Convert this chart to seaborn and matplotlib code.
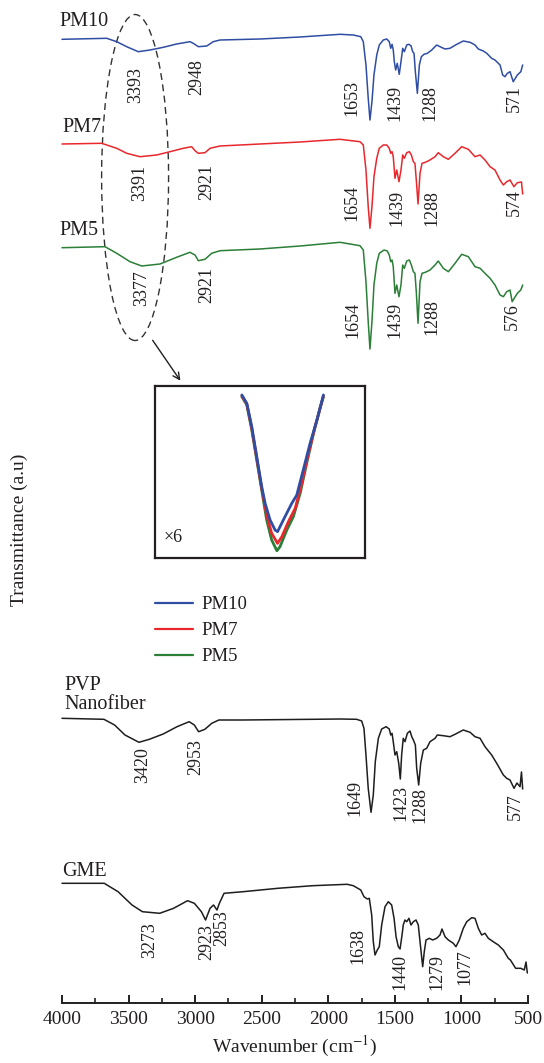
import numpy as np
import pandas as pd
import matplotlib
matplotlib.use("Agg")
import matplotlib.pyplot as plt
import seaborn as sns
from matplotlib.patches import Ellipse
from matplotlib.lines import Line2D

# ---------------- data (wavenumber cm^-1, relative transmittance a.u.) ----------------
PM10 = [(4000,0.0),(3664,1.0),(3589,-2.4),(3514,-7.4),(3427,-12.4),(3339,-10.7),(3239,-8.0),(3139,-4.7),
        (3039,-2.4),(3014,-4.0),(2976,-7.4),(2913,-6.7),(2864,-2.4),(2813,-0.7),(2513,0.3),(2212,2.3),
        (1912,5.0),(1812,4.3),(1756,2.6),(1737,-2.4),(1717,-25.7),(1700,-59.0),(1687,-80.7),(1672,-62.4),
        (1657,-35.7),(1636,-15.7),(1617,-5.7),(1587,-0.7),(1561,0.3),(1542,-2.4),(1531,-9.0),(1521,-5.0),
        (1512,-10.7),(1504,-22.4),(1494,-30.7),(1482,-24.0),(1467,-35.0),(1454,-22.4),(1441,-9.0),
        (1429,-12.4),(1411,-5.7),(1395,-5.0),(1379,-6.4),(1366,-12.4),(1356,-14.0),(1346,-32.4),
        (1331,-54.0),(1316,-25.7),(1301,-17.4),(1281,-15.0),(1256,-14.0),(1223,-10.7),(1186,-5.7),
        (1161,-7.4),(1123,-9.7),(1086,-9.0),(1035,-5.0),(986,-1.7),(935,-3.0),(898,-5.7),(873,-9.7),
        (836,-11.7),(810,-14.0),(773,-19.0),(748,-20.7),(710,-25.7),(690,-35.7),(673,-37.4),(655,-34.0),
        (635,-32.4),(611,-42.4),(580,-35.7),(554,-32.4),(540,-25.7)]
PM7 = [(4000,0.0),(3702,0.7),(3589,-4.3),(3514,-9.3),(3414,-12.7),(3289,-11.0),(3189,-7.7),(3089,-4.3),
       (3026,-2.7),(3001,-6.7),(2976,-9.3),(2926,-8.7),(2888,-4.3),(2813,-2.0),(2513,0.0),(2212,2.0),
       (1912,4.7),(1762,2.3),(1737,-1.0),(1717,-26.0),(1700,-62.7),(1687,-84.3),(1672,-62.7),(1657,-32.7),
       (1636,-14.3),(1617,-4.3),(1587,-1.0),(1561,-1.0),(1542,-4.3),(1531,-9.3),(1521,-7.7),(1512,-12.7),
       (1499,-34.3),(1486,-26.0),(1469,-37.7),(1454,-26.0),(1441,-11.0),(1429,-14.3),(1411,-8.7),
       (1391,-7.7),(1376,-11.0),(1361,-17.7),(1349,-19.3),(1339,-36.0),(1326,-60.0),(1311,-29.3),
       (1296,-19.3),(1271,-18.3),(1236,-16.0),(1198,-12.7),(1174,-8.7),(1136,-12.7),(1098,-15.3),
       (1048,-9.3),(998,-2.7),(948,-5.3),(898,-12.7),(860,-11.0),(823,-16.0),(785,-22.7),(748,-26.0),
       (710,-36.0),(685,-41.0),(660,-37.7),(635,-36.0),(606,-42.7),(580,-38.7),(549,-38.0),(540,-50.0)]
PM5 = [(4000,0.0),(3677,1.0),(3589,-5.6),(3489,-14.0),(3401,-18.3),(3264,-16.3),(3139,-9.6),(3039,-4.6),
       (3001,-7.3),(2976,-13.0),(2926,-11.6),(2876,-5.6),(2813,-3.0),(2513,-1.3),(2212,1.7),(1912,5.4),
       (1762,2.0),(1737,-2.3),(1717,-34.0),(1700,-74.0),(1687,-101.3),(1672,-74.0),(1657,-37.3),
       (1636,-15.6),(1617,-5.6),(1581,-2.3),(1557,-3.3),(1542,-7.3),(1531,-14.0),(1521,-12.3),(1512,-19.0),
       (1499,-45.6),(1486,-37.3),(1469,-49.0),(1454,-37.3),(1441,-17.3),(1429,-20.6),(1411,-13.3),
       (1391,-12.3),(1376,-17.3),(1361,-24.0),(1349,-25.6),(1339,-44.0),(1326,-75.6),(1311,-34.0),
       (1296,-25.6),(1271,-24.6),(1236,-22.3),(1198,-17.3),(1174,-13.3),(1136,-20.6),(1098,-24.0),
       (1048,-15.6),(998,-6.6),(948,-9.0),(898,-19.0),(860,-20.6),(823,-25.6),(785,-30.6),(748,-37.3),
       (710,-47.3),(685,-49.0),(660,-44.0),(635,-42.3),(619,-54.0),(580,-45.6),(554,-42.3),(540,-37.3)]
PVP = [(4000,0.0),(3685,-1.0),(3605,-6.7),(3527,-16.7),(3422,-24.0),(3344,-21.0),(3240,-15.7),(3136,-8.4),
       (3045,-3.4),(3006,-6.7),(2974,-13.4),(2927,-11.0),(2875,-5.0),(2822,-1.7),(2640,-1.7),(2118,-1.0),
       (1912,-0.7),(1787,-1.0),(1749,-2.7),(1732,-10.0),(1717,-36.7),(1700,-70.0),(1679,-94.0),(1662,-76.7),
       (1647,-43.4),(1624,-20.0),(1599,-10.7),(1566,-8.4),(1542,-10.7),(1531,-16.7),(1521,-15.0),
       (1512,-23.4),(1499,-36.7),(1486,-33.4),(1471,-45.0),(1459,-60.7),(1449,-36.7),(1437,-20.0),
       (1424,-23.4),(1406,-15.0),(1386,-12.7),(1373,-18.4),(1361,-21.7),(1346,-26.7),(1336,-50.0),
       (1321,-66.7),(1306,-45.0),(1286,-31.7),(1261,-30.0),(1236,-23.4),(1198,-20.0),(1181,-16.7),
       (1136,-17.4),(1086,-18.4),(1048,-16.0),(986,-11.7),(935,-14.0),(898,-18.4),(860,-20.0),(823,-28.4),
       (773,-36.7),(735,-45.0),(685,-56.7),(660,-60.0),(635,-61.7),(605,-70.0),(583,-64.7),(560,-68.4),
       (549,-53.7),(540,-70.7)]
GME = [(4000,0.0),(3683,0.0),(3579,-8.4),(3474,-21.7),(3396,-28.4),(3266,-30.0),(3162,-25.0),(3057,-17.4),
       (3006,-20.0),(2953,-28.4),(2922,-36.7),(2888,-25.0),(2862,-21.7),(2836,-26.7),(2818,-20.0),
       (2783,-10.0),(2640,-8.4),(2379,-5.0),(2118,-2.4),(1858,-1.0),(1812,-2.4),(1756,-6.7),(1732,-13.4),
       (1707,-15.7),(1692,-15.0),(1674,-31.7),(1662,-58.4),(1649,-71.7),(1632,-66.7),(1617,-63.4),
       (1599,-41.7),(1574,-23.4),(1549,-18.4),(1524,-21.7),(1506,-35.0),(1491,-53.4),(1474,-63.4),
       (1461,-65.7),(1446,-51.7),(1437,-41.7),(1424,-36.7),(1411,-38.4),(1394,-35.0),(1379,-41.7),
       (1361,-38.4),(1341,-36.7),(1324,-41.7),(1311,-58.4),(1291,-83.4),(1279,-68.4),(1266,-56.7),
       (1241,-55.0),(1216,-56.7),(1186,-55.0),(1161,-51.7),(1146,-45.7),(1123,-53.4),(1098,-56.7),
       (1061,-60.0),(1041,-63.4),(1016,-56.7),(986,-45.0),(960,-38.4),(923,-34.4),(898,-35.0),(873,-45.0),
       (848,-51.7),(823,-50.0),(798,-55.0),(761,-58.4),(723,-61.7),(685,-66.7),(648,-75.0),(632,-76.7),
       (593,-85.0),(554,-85.0),(528,-86.7),(515,-78.7),(505,-89.7)]

SAMPLES = ["PM10", "PM7", "PM5", "PVP Nanofiber", "GME"]
SPECTRA = [PM10, PM7, PM5, PVP, GME]
OFFSETS = [963.7, 859.0, 755.3, 284.7, 119.7]
COLORS = ["#2f4ea3", "#e8282d", "#2b7f37", "#1e1e1e", "#1e1e1e"]

# peak labels: (text, wavenumber position, y)
PEAKS = {
    "PM10": [("3393", 3444, 918), ("2948", 2988, 926), ("1653", 1824, 905), ("1439", 1499, 900),
             ("1288", 1236, 900), ("571", 605, 905)],
    "PM7": [("3391", 3414, 820), ("2921", 2913, 821), ("1654", 1824, 800), ("1439", 1486, 795),
            ("1288", 1223, 795), ("574", 605, 800)],
    "PM5": [("3377", 3401, 715), ("2921", 2913, 718), ("1654", 1812, 683), ("1439", 1499, 683),
            ("1288", 1223, 686), ("576", 620, 686)],
    "PVP Nanofiber": [("3420", 3396, 238), ("2953", 2992, 246), ("1649", 1799, 205), ("1423", 1456, 200),
                      ("1288", 1311, 198), ("577", 593, 196)],
    "GME": [("3273", 3339, 63), ("2923", 2914, 61), ("2853", 2797, 75), ("1638", 1777, 57),
            ("1440", 1461, 31), ("1279", 1186, 31), ("1077", 973, 36)],
}
NAME_POS = {"PM10": (4023, 981), "PM7": (4000, 876), "PM5": (4023, 773),
            "PVP Nanofiber": (3985, 308), "GME": (4000, 131)}

# inset (x6 magnification of the O-H band)
INSET_PM10 = [(3420,94.8),(3404,89.9),(3388,76.3),(3372,58.9),(3356,41.5),(3345,31.8),(3329,22.1),(3313,16.3),
              (3305,15.3),(3297,18.2),(3281,24.0),(3259,31.8),(3243,36.6),(3222,51.2),(3200,66.7),(3178,80.2),
              (3157,94.8)]
INSET_PM7 = [(3420,94.2),(3404,89.5),(3388,75.4),(3372,58.0),(3356,40.5),(3340,25.0),(3324,14.4),(3305,8.5),
             (3291,12.4),(3270,21.1),(3248,28.9),(3227,43.4),(3205,60.9),(3184,76.3),(3157,94.2)]
INSET_PM5 = [(3420,93.8),(3404,89.0),(3388,74.4),(3372,57.0),(3356,39.5),(3340,22.1),(3324,10.5),(3307,4.2),
             (3297,6.6),(3275,16.3),(3254,24.0),(3232,37.6),(3211,55.1),(3189,72.5),(3168,87.0),(3157,93.8)]

# ---------------- figure ----------------
sns.set_theme(style="white")
plt.rcParams["font.family"] = ["Liberation Serif", "DejaVu Serif"]
plt.rcParams["mathtext.fontset"] = "stix"
TXT = "#231f20"

W, H = 544, 1063
fig = plt.figure(figsize=(W / 100, H / 100), dpi=100)
ax = fig.add_axes([62 / W, 60 / H, 466 / W, 1003 / H])

rows = []
for name, spec, off in zip(SAMPLES, SPECTRA, OFFSETS):
    for wn, t in spec:
        rows.append({"sample": name, "wavenumber": wn, "T": t + off})
df = pd.DataFrame(rows)
sns.lineplot(data=df, x="wavenumber", y="T", hue="sample", palette=dict(zip(SAMPLES, COLORS)),
             estimator=None, sort=False, lw=1.1, legend=False, ax=ax)
for ln in ax.lines:
    ln.set_clip_on(False)

ax.set_xlim(4000, 500)
ax.set_ylim(0, 1003)
for s in ["top", "left", "right"]:
    ax.spines[s].set_visible(False)
ax.spines["bottom"].set_color(TXT)
ax.spines["bottom"].set_linewidth(1.4)
ax.set_yticks([])
ax.set_xticks(np.arange(4000, 499, -500))
ax.set_xticks(np.arange(3750, 500, -500), minor=True)
ax.tick_params(axis="x", which="major", direction="in", length=6, width=1.4, color=TXT,
               labelsize=14, labelcolor=TXT, pad=6, bottom=True)
ax.tick_params(axis="x", which="minor", direction="in", length=3.5, width=1.2, color=TXT, bottom=True)
ax.set_xlabel(r"Wavenumber (cm$^{-1}$)", fontsize=14, color=TXT, labelpad=4)
ax.set_ylabel("")
fig.text(19 / W, 1 - 530 / H, "Transmittance (a.u)", rotation=90, ha="center", va="center",
         fontsize=14, color=TXT)

for name in SAMPLES:
    x, y = NAME_POS[name]
    label = name.replace(" ", "\n")
    ax.text(x, y, label, ha="left", va="center", fontsize=14.5, color=TXT, linespacing=0.95)
    for txt, px, py in PEAKS[name]:
        ax.text(px, py, txt, rotation=90, ha="center", va="center", fontsize=13, color=TXT)

# dashed ellipse around O-H band and arrow to inset
ell = Ellipse((3451, 825.5), width=503, height=326, fill=False, ls=(0, (5, 3.2)), lw=1.0,
              ec="#333333", clip_on=False)
ax.add_patch(ell)
ax.annotate("", xy=(3099, 620), xytext=(3331, 665), xycoords="data",
            arrowprops=dict(arrowstyle="->", color=TXT, lw=1.0, mutation_scale=12), annotation_clip=False)

# inset axes
iax = fig.add_axes([155 / W, 1 - 558 / H, (365 - 155) / W, (558 - 386) / H])
irows = []
for name, spec in zip(["PM10", "PM7", "PM5"], [INSET_PM10, INSET_PM7, INSET_PM5]):
    for wn, t in spec:
        irows.append({"sample": name, "wavenumber": wn, "T": t})
idf = pd.DataFrame(irows)
sns.lineplot(data=idf, x="wavenumber", y="T", hue="sample",
             palette=dict(zip(["PM10", "PM7", "PM5"], COLORS[:3])), hue_order=["PM5", "PM7", "PM10"],
             estimator=None, sort=False, lw=2.0, legend=False, ax=iax)
iax.set_xlim(3700, 3023)
iax.set_ylim(0, 100)
iax.set_xticks([])
iax.set_yticks([])
iax.set_xlabel("")
iax.set_ylabel("")
for s in iax.spines.values():
    s.set_visible(True)
    s.set_color(TXT)
    s.set_linewidth(1.6)
iax.text(0.04, 0.12, "×6", transform=iax.transAxes, fontsize=13, color=TXT, ha="left", va="center")

# legend
handles = [Line2D([], [], color=c, lw=1.6) for c in COLORS[:3]]
fig.legend(handles, ["PM10", "PM7", "PM5"], loc="upper left",
           bbox_to_anchor=(155 / W, 1 - 596 / H), frameon=False, fontsize=13.5,
           handlelength=2.0, handletextpad=0.5, labelspacing=0.48, borderpad=0, borderaxespad=0,
           labelcolor=TXT)

fig.savefig("out.png", dpi=100)
